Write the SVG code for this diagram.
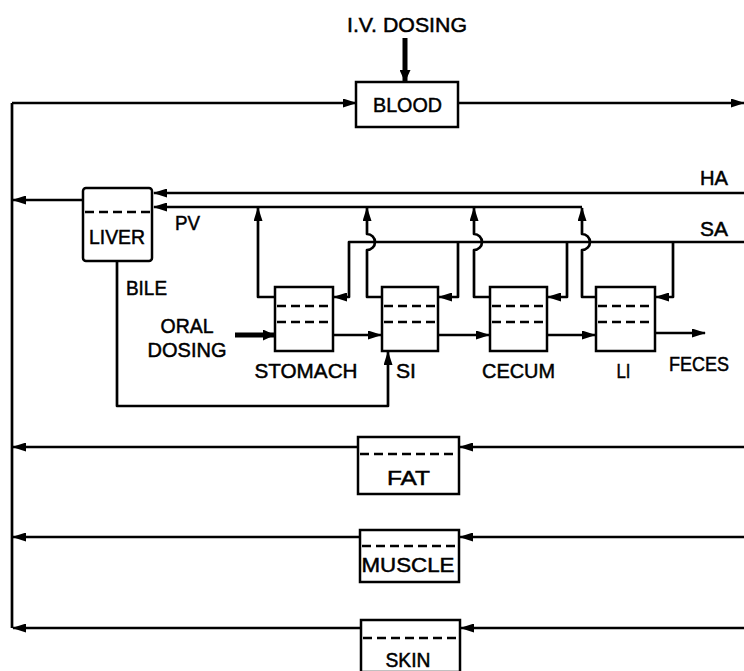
<svg xmlns="http://www.w3.org/2000/svg" width="744" height="671" viewBox="0 0 744 671">
<defs>
<marker id="ah" viewBox="0 0 14 9" refX="13" refY="4.5" markerWidth="14" markerHeight="9" markerUnits="userSpaceOnUse" orient="auto"><path d="M0,0 L14,4.5 L0,9 z" fill="#000"/></marker>
<marker id="ahb" viewBox="0 0 12 11" refX="11" refY="5.5" markerWidth="12" markerHeight="11" markerUnits="userSpaceOnUse" orient="auto"><path d="M0,0 L12,5.5 L0,11 z" fill="#000"/></marker>
</defs>
<style>
.box{fill:#fff;stroke:#000;stroke-width:2.5}
.dash{fill:none;stroke:#000;stroke-width:2.6;stroke-dasharray:9,5}
.ln{fill:none;stroke:#000;stroke-width:2.7;stroke-linejoin:round}
.arr{marker-end:url(#ah)}
.thick{fill:none;stroke:#000;stroke-width:5;marker-end:url(#ahb)}
text{font-family:"Liberation Sans",Arial,sans-serif;font-size:21px;fill:#000;stroke:#000;stroke-width:0.5}
.c{text-anchor:middle}
</style>
<rect width="744" height="671" fill="#fff"/>
<g id="connectors">
<path class="thick" d="M405,38 V81"/>
<path class="ln arr" d="M12,103 H356"/>
<path class="ln arr" d="M458,103 H744"/>
<path class="ln" d="M12,103 V628"/>
<path class="ln arr" d="M83,200 H13"/>
<path class="ln arr" d="M744,193 H154"/>
<path class="ln arr" d="M582,207 H154"/>
<path class="ln arr" d="M275,297 H258 V208"/>
<path class="ln arr" d="M382,297 H367 V250 A8,8 0 0 0 367,234 V208"/>
<path class="ln arr" d="M490,297 H474 V250 A8,8 0 0 0 474,234 V208"/>
<path class="ln arr" d="M596,297 H582 V250 A8,8 0 0 0 582,234 V208"/>
<path class="ln arr" d="M744,242 H349 V297 H334"/>
<path class="ln arr" d="M458,242 V297 H439"/>
<path class="ln arr" d="M567,242 V297 H548"/>
<path class="ln arr" d="M673,242 V297 H656"/>
<path class="thick" d="M235,335 H274"/>
<path class="ln arr" d="M333,335 H381"/>
<path class="ln arr" d="M438,335 H489"/>
<path class="ln arr" d="M547,335 H595"/>
<path class="ln arr" d="M655,333 H705"/>
<path class="ln arr" d="M117,262 V406 H388 V352"/>
<path class="ln arr" d="M744,447 H460"/>
<path class="ln arr" d="M358,447 H13"/>
<path class="ln arr" d="M744,537 H460"/>
<path class="ln arr" d="M360,537 H13"/>
<path class="ln arr" d="M744,628 H461"/>
<path class="ln arr" d="M361,628 H13"/>
</g>
<g id="iv-dosing"><text class="c" x="407" y="32" textLength="120" lengthAdjust="spacingAndGlyphs">I.V. DOSING</text></g>
<g id="blood">
<rect class="box" x="356" y="82" width="102" height="45"/>
<text class="c" x="407.5" y="112" textLength="69" lengthAdjust="spacingAndGlyphs">BLOOD</text>
</g>
<g id="liver">
<rect class="box" x="83" y="188" width="69" height="73" rx="3"/>
<path class="dash" d="M85,212 H150"/>
<text class="c" x="117" y="244" textLength="56" lengthAdjust="spacingAndGlyphs">LIVER</text>
</g>
<g id="labels">
<text x="700" y="185" textLength="28" lengthAdjust="spacingAndGlyphs">HA</text>
<text x="700" y="236" textLength="28" lengthAdjust="spacingAndGlyphs">SA</text>
<text x="175" y="230" textLength="25" lengthAdjust="spacingAndGlyphs">PV</text>
<text x="126" y="295" textLength="41" lengthAdjust="spacingAndGlyphs">BILE</text>
<text class="c" x="187" y="333" textLength="53" lengthAdjust="spacingAndGlyphs">ORAL</text>
<text class="c" x="187" y="357" textLength="79" lengthAdjust="spacingAndGlyphs">DOSING</text>
<text x="669" y="371" textLength="60" lengthAdjust="spacingAndGlyphs">FECES</text>
</g>
<g id="stomach">
<rect class="box" x="275" y="287" width="58" height="64"/>
<path class="dash" d="M277,306 H331 M277,322 H331"/>
<text class="c" x="306" y="378" textLength="103" lengthAdjust="spacingAndGlyphs">STOMACH</text>
</g>
<g id="si">
<rect class="box" x="382" y="287" width="56" height="64"/>
<path class="dash" d="M384,306 H436 M384,322 H436"/>
<text x="396" y="378" textLength="20" lengthAdjust="spacingAndGlyphs">SI</text>
</g>
<g id="cecum">
<rect class="box" x="490" y="287" width="57" height="64"/>
<path class="dash" d="M492,306 H545 M492,322 H545"/>
<text class="c" x="518.5" y="378" textLength="73" lengthAdjust="spacingAndGlyphs">CECUM</text>
</g>
<g id="li">
<rect class="box" x="596" y="287" width="59" height="64"/>
<path class="dash" d="M598,306 H653 M598,322 H653"/>
<text class="c" x="623.5" y="378" textLength="14" lengthAdjust="spacingAndGlyphs">LI</text>
</g>
<g id="fat">
<rect class="box" x="358" y="437" width="101" height="57"/>
<path class="dash" d="M360,454 H457"/>
<text class="c" x="408.5" y="485" textLength="43" lengthAdjust="spacingAndGlyphs">FAT</text>
</g>
<g id="muscle">
<rect class="box" x="360" y="530" width="99" height="52"/>
<path class="dash" d="M362,546 H457"/>
<text class="c" x="408" y="572" textLength="93" lengthAdjust="spacingAndGlyphs">MUSCLE</text>
</g>
<g id="skin">
<rect class="box" x="361" y="620" width="99" height="52"/>
<path class="dash" d="M363,638 H458"/>
<text class="c" x="408" y="667" textLength="45" lengthAdjust="spacingAndGlyphs">SKIN</text>
</g>
</svg>
